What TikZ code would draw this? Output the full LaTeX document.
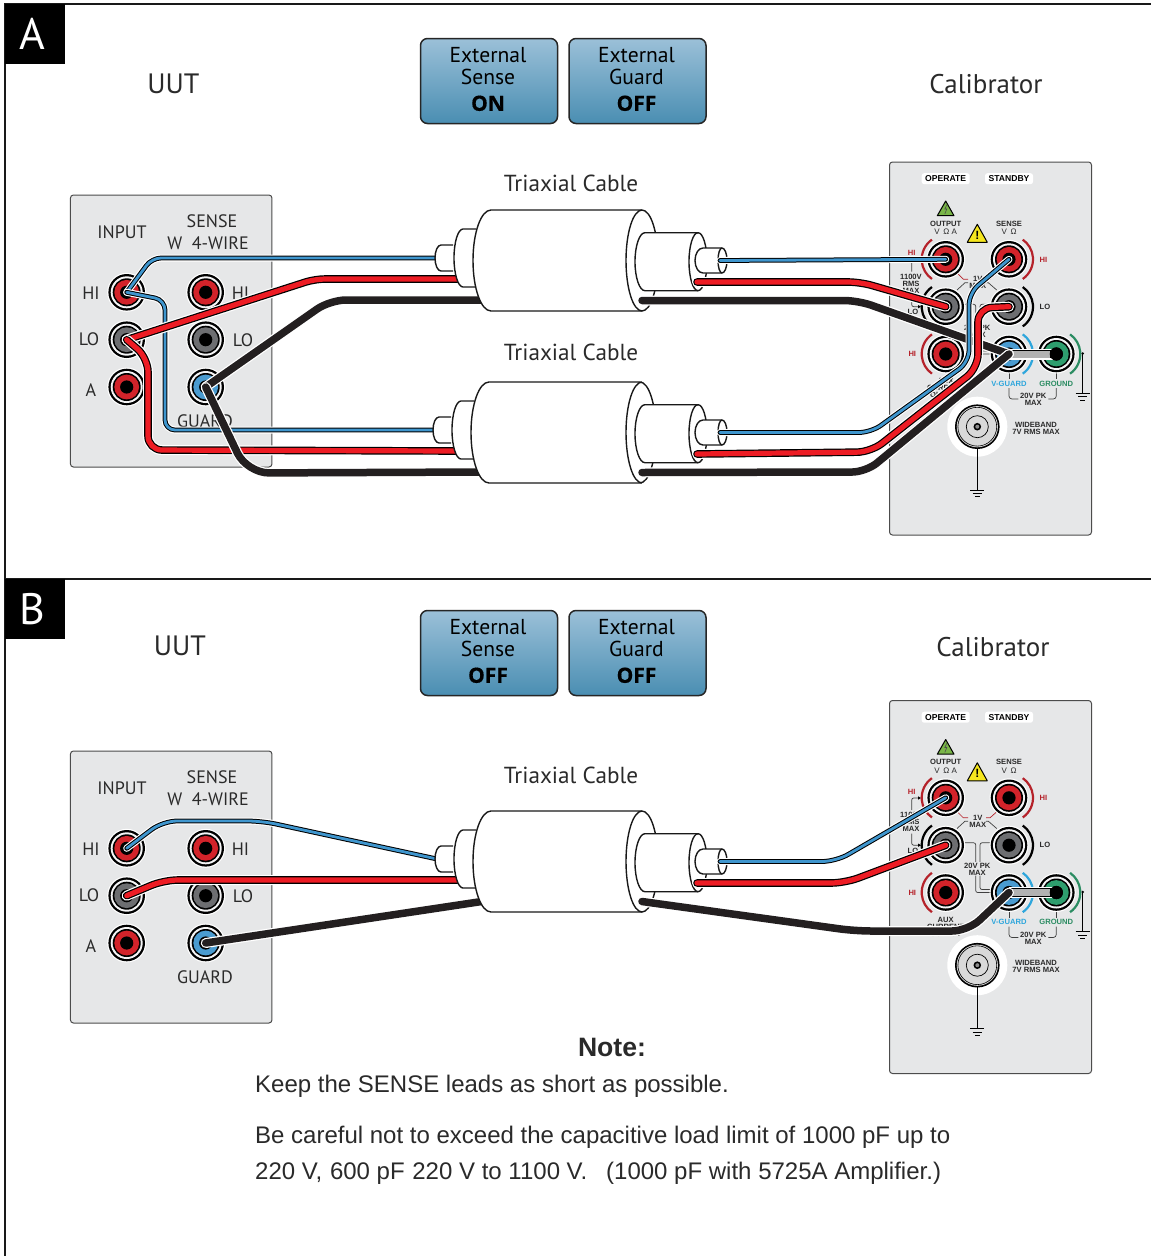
\documentclass[tikz,border=0pt]{standalone}
\usepackage{fontspec}
\setmainfont{Liberation Sans}
\newfontfamily\myr{PT Sans}
\newfontfamily\myrb{Open Sans}[BoldFeatures={FakeBold=0.5}]
\definecolor{jred}{HTML}{D2232A}
\definecolor{jgray}{HTML}{6D6E71}
\definecolor{jblue}{HTML}{4A9BD0}
\definecolor{jgreen}{HTML}{2E9E6E}
\definecolor{wred}{HTML}{ED1C24}
\definecolor{wblue}{HTML}{3F96CE}
\definecolor{wblack}{HTML}{231F20}
\definecolor{panelc}{HTML}{E6E7E8}
\definecolor{arcred}{HTML}{B5222A}
\definecolor{labcy}{HTML}{2EA6DC}
\definecolor{labgr}{HTML}{2B8C62}
\definecolor{ink}{HTML}{2A2A2A}
\definecolor{btop}{HTML}{9BC0D8}
\definecolor{bbot}{HTML}{4A8EB2}
\definecolor{warngreen}{HTML}{7AB648}
\definecolor{warnyellow}{HTML}{F5E61E}
\tikzset{
  x=1pt,y=-1pt,
  wirepath/.style={line cap=round,line join=round},
  panelbox/.style={draw=black!70,line width=1pt,fill=panelc,rounded corners=3pt},
  btn/.style={draw=black!85,line width=1.5pt,rounded corners=7pt,top color=btop,bottom color=bbot,
     minimum width=137pt,minimum height=85pt,inner sep=0pt},
  btntext/.style={inner sep=0pt,align=center,text=black,font=\myr\fontsize{21.6}{21.6}\selectfont},
  big/.style={text=ink,inner sep=0pt,font=\myr\fontsize{27}{27}\selectfont},
  bigu/.style={text=ink,inner sep=0pt,font=\myr\fontsize{28}{28}\selectfont},
  mid/.style={text=ink,inner sep=0pt,font=\myr\fontsize{23.2}{23.2}\selectfont},
  uutlab/.style={text=ink,inner sep=0pt,font=\myr\fontsize{18}{19}\selectfont},
  tiny/.style={text=ink,inner sep=0pt,align=center,font=\fontsize{7.6}{7}\selectfont\bfseries},
  pill/.style={fill=white,rounded corners=2.5pt,minimum width=48pt,minimum height=11pt,inner sep=0pt,text=black,font=\fontsize{8.6}{8.6}\selectfont\bfseries},
  thin line/.style={draw=black!75,line width=.7pt,rounded corners=2pt},
  cab/.style={draw=black!90,line width=1.4pt,fill=white,line join=round},
  cabl/.style={draw=black!90,line width=1.4pt},
  notetext/.style={anchor=base west,inner sep=0pt,text=ink,font=\fontsize{24}{24}\selectfont},
  lettersq/.style={fill=black,minimum size=60pt,inner sep=0pt,text=white,font=\myr\fontsize{44}{44}\selectfont}
}
\newcommand\button[5]{%
  \node[btn] (#1) at (#2,#3) {};
  \node[btntext] (#1t) at (#2-1,#3-2) {External\\[1pt]#4\\[4.5pt]{\myrb\fontsize{21}{21}\selectfont\bfseries #5}};
}
\newcommand\jack[3]{%
  \node[circle,fill=white,minimum size=39pt,inner sep=0pt] (#1) at (#2) {};
  \fill[black] (#1.center) circle[radius=18.3pt];
  \fill[panelc!40!white] (#1.center) circle[radius=16pt];
  \fill[black] (#1.center) circle[radius=14pt];
  \fill[#3] (#1.center) circle[radius=12.4pt];
  \fill[black] (#1.center) circle[radius=6.6pt];
}
\newcommand\jarc[4]{\draw[#4,line width=2.2pt] ([shift={(#2:24pt)}]#1.center) arc[start angle=#2,end angle=#3,radius=24pt];}
\newcommand\gnd[1]{%
  \draw[black,line width=.8pt] ([xshift=-7pt]#1) -- ([xshift=7pt]#1)
    ([xshift=-4.6pt,yshift=-3.4pt]#1) -- ([xshift=4.6pt,yshift=-3.4pt]#1)
    ([xshift=-2.3pt,yshift=-6.8pt]#1) -- ([xshift=2.3pt,yshift=-6.8pt]#1);
}
\newcommand\bwire[2][12pt]{%
  \draw[wirepath,rounded corners=#1,white,line width=7pt] #2;
  \draw[wirepath,rounded corners=#1,black,line width=4.8pt] #2;
  \draw[wirepath,rounded corners=#1,wblue,line width=2.8pt] #2;}
\newcommand\rwire[2][12pt]{%
  \draw[wirepath,rounded corners=#1,white,line width=10pt] #2;
  \draw[wirepath,rounded corners=#1,black,line width=7.6pt] #2;
  \draw[wirepath,rounded corners=#1,wred,line width=5.2pt] #2;}
\newcommand\kwire[2][12pt]{%
  \draw[wirepath,rounded corners=#1,white,line width=10pt] #2;
  \draw[wirepath,rounded corners=#1,wblack,line width=7.5pt] #2;}
\newcommand\link[2]{%
  \draw[white,line width=11pt] (#1.center) -- (#2.center);
  \draw[black,line width=8.4pt] (#1.center) -- (#2.center);
  \draw[black!30,line width=7pt] (#1.center) -- ([xshift=-6.5pt]#2.center);
  \fill[black] (#2.center) circle[radius=6.6pt];}
\newcommand\cableco[3]{%
  \begin{scope}[shift={(#2,#3)},name prefix=#1-]
    \coordinate (l1) at (437,258);
    \coordinate (l2) at (458,279);
    \coordinate (l3) at (485,300);
    \coordinate (r1) at (720,260.5);
    \coordinate (r2) at (697,282);
    \coordinate (r3) at (642,300.5);
  \end{scope}}
\newcommand\cablebody[3]{%
  \begin{scope}[shift={(#1,#2)}]
    \draw[cab] (453,245) -- (441,245) arc[start angle=90,end angle=270,x radius=6pt,y radius=13pt] -- (453,271);
    \draw[cab] (476,229) -- (463,229) arc[start angle=90,end angle=270,x radius=9pt,y radius=29pt] -- (476,287);
    \draw[cab] (491,210) -- (642,210) arc[start angle=90,end angle=-90,x radius=16pt,y radius=50.5pt] -- (491,311) arc[start angle=270,end angle=90,x radius=18pt,y radius=50.5pt] -- cycle;
  \end{scope}
  \begin{scope}[shift={(0,#3)}]
    \draw[cabl] (642,210) arc[start angle=90,end angle=270,x radius=16pt,y radius=50.5pt];
    \draw[cab] (645,232.7) -- (698,232.7) arc[start angle=90,end angle=-90,x radius=9pt,y radius=29pt] -- (645,290.7) arc[start angle=270,end angle=90,x radius=10pt,y radius=29pt] -- cycle;
    \draw[cabl] (698,232.7) arc[start angle=90,end angle=270,x radius=9pt,y radius=29pt];
    \draw[cab] (703,248) -- (722,248) arc[start angle=90,end angle=-90,x radius=5pt,y radius=12.5pt] -- (703,273) arc[start angle=270,end angle=90,x radius=8pt,y radius=12.5pt] -- cycle;
    \draw[cabl] (722,248) arc[start angle=90,end angle=270,x radius=4pt,y radius=12.5pt];
  \end{scope}}
\newcommand\uut[2]{%
  \begin{scope}[shift={(0,#1)},name prefix=#2-]
    \node[panelbox,minimum width=201.5pt,minimum height=272pt,inner sep=0pt] (box) at (171.2,331) {};
    \node[uutlab] (tinput) at (122,232) {INPUT};
    \node[uutlab] (tsense) at (212,221) {SENSE};
    \node[uutlab] (twire) at (208,243) {W\ \ 4-WIRE};
    \node[uutlab] (thi) at (91,293.5) {HI};
    \node[uutlab] (thi2) at (240.5,293.5) {HI};
    \node[uutlab] (tlo) at (89,339.5) {LO};
    \node[uutlab] (tlo2) at (243,340.5) {LO};
    \node[uutlab] (ta) at (91,390) {A};
    \node[uutlab] (tguard) at (205,421) {GUARD};
    \jack{hi}{126.7,292.3}{jred}
    \jack{lo}{126.7,339.7}{jgray}
    \jack{a}{126.7,387}{jred}
    \jack{shi}{205.7,292.3}{jred}
    \jack{slo}{205.7,339.7}{jgray}
    \jack{guard}{205.7,387}{jblue}
  \end{scope}}
\newcommand\calpanel[2]{%
  \begin{scope}[shift={(0,#1)},name prefix=#2-]
    \node[panelbox,minimum width=202pt,minimum height=373pt,inner sep=0pt] (box) at (990.5,348.5) {};
    \node[pill] (op) at (945.7,178.7) {OPERATE};
    \node[pill] (st) at (1009,178.7) {STANDBY};
    \path (945.7,201) coordinate (g1) (937.3,215.7) coordinate (g2) (954,215.7) coordinate (g3);
    \draw[black,line width=1pt,fill=warngreen,line join=round] (g1) -- (g2) -- (g3) -- cycle;
    \coordinate (bolta) at (947,204.5); \coordinate (boltb) at (944.8,209); \coordinate (boltc) at (946.8,209); \coordinate (boltd) at (944.8,214);
    \draw[black!70,line width=.6pt] (bolta) -- (boltb) -- (boltc) -- (boltd);
    \path (977.3,224.3) coordinate (y1) (967.3,242.3) coordinate (y2) (987.3,242.3) coordinate (y3);
    \draw[black,line width=1pt,fill=warnyellow,line join=round] (y1) -- (y2) -- (y3) -- cycle;
    \node[inner sep=0pt,font=\fontsize{12}{12}\selectfont\bfseries] (excl) at (977.3,235) {!};
    \node[tiny] (tout) at (945.7,223.5) {OUTPUT};
    \node[tiny,font=\fontsize{8}{8}\selectfont] (tvoa) at (945.7,232) {V \(\,\)Ω A};
    \node[tiny] (tsen) at (1009,223.5) {SENSE};
    \node[tiny,font=\fontsize{8}{8}\selectfont] (tvo) at (1009,232) {V \(\,\)Ω};
    \node[tiny,text=arcred] (thia) at (911.7,253.3) {HI};
    \node[tiny,text=arcred] (thib) at (1043.5,259.7) {HI};
    \node[tiny] (t1100) at (911,283.5) {1100V\\RMS\\MAX};
    \node[tiny] (tloa) at (913,312) {LO};
    \node[tiny] (t1v) at (977.7,282.5) {1V\\MAX};
    \node[tiny] (tlob) at (1045,306.7) {LO};
    \node[tiny] (t20a) at (977.3,331) {20V PK\\MAX};
    \node[tiny,text=arcred] (thic) at (912.3,354) {HI};
    \node[tiny] (taux) at (945.7,388) {AUX\\CURRENT\\OUTPUT};
    \node[tiny,text=labcy] (tvg) at (1009,383.8) {V-GUARD};
    \node[tiny,text=labgr] (tgn) at (1056.3,383.8) {GROUND};
    \node[tiny] (t20b) at (1033.3,399.5) {20V PK\\MAX};
    \node[tiny] (twb) at (1036,428) {WIDEBAND\\7V RMS MAX};
    % thin leaders
    \draw[arcred,line width=.7pt] (957.3,273.3) -- (963.3,279.3) -- (968,279.3);
    \draw[arcred,line width=.7pt] (996.7,273.3) -- (990,279.3) -- (986,279.3);
    \draw[black!75,line width=.7pt] (957,290) -- (965,282.7) -- (968,282.7);
    \draw[black!75,line width=.7pt] (996.7,290) -- (988.3,282.7) -- (986,282.7);
    \draw[thin line] (963.3,304.3) -- (975.7,304.3) -- (975.7,323.3);
    \draw[thin line] (990,304.3) -- (980,304.3) -- (980,323.3);
    \draw[thin line] (975.7,337) -- (975.7,354) -- (990,354);
    \draw[thin line] (980,337) -- (980,351) -- (990,351);
    \draw[thin line] (1009,372) -- (1009,379);
    \draw[thin line] (1056.3,372) -- (1056.3,379);
    \draw[thin line,rounded corners=3pt] (1009,388) -- (1009,399) -- (1018.3,399);
    \draw[thin line,rounded corners=3pt] (1056.3,388) -- (1056.3,399) -- (1048.3,399);
    \draw[thin line] (911.7,271.5) -- (911.7,259.5) -- (919,259.5);
    \draw[thin line] (911.7,295) -- (911.7,306.7) -- (919,306.7);
    \fill[black] (921,259.5) -- (918,257.8) -- (918,261.2) -- cycle;
    \fill[black] (921,306.7) -- (918,305) -- (918,308.4) -- cycle;
    \jack{ohi}{945.7,259.3}{jred}
    \jack{shi}{1009,259.3}{jred}
    \jack{olo}{945.7,306.7}{jgray}
    \jack{slo}{1009,306.7}{jgray}
    \jack{aux}{945.7,354}{jred}
    \jack{vg}{1009,354}{jblue}
    \jarc{ohi}{125}{235}{arcred}
    \jarc{shi}{-55}{55}{arcred}
    \jarc{olo}{125}{235}{black}
    \jarc{slo}{-55}{55}{black}
    \jarc{aux}{125}{235}{arcred}
    \jarc{vg}{-55}{55}{labcy}
    \jack{gnd}{1056.3,354}{jgreen}
    \jarc{gnd}{-55}{55}{labgr}
    % ground of GROUND jack
    \coordinate (gt) at (1082.7,353.5);
    \coordinate (gb) at (1082.7,393.3);
    \fill[black] (gt) circle[radius=1.3pt];
    \draw[black,line width=.8pt] (gt) -- (gb);
    \gnd{gb}
    % BNC
    \node[circle,fill=white,minimum size=60pt,inner sep=0pt] (bnc) at (977.3,426.7) {};
    \fill[black] (bnc.center) circle[radius=22.3pt];
    \fill[black!15] (bnc.center) circle[radius=20.6pt];
    \draw[black,line width=.6pt] (bnc.center) circle[radius=19.4pt];
    \draw[black,line width=.7pt] (bnc.center) circle[radius=11pt];
    \fill[black] (bnc.center) circle[radius=3.8pt];
    \fill[black!45] (bnc.center) circle[radius=2pt];
    \coordinate (bg) at (977.3,490);
    \draw[black,line width=.8pt] (bnc.center)++(0,22) -- (bg);
    \gnd{bg}
  \end{scope}}
\begin{document}
\begin{tikzpicture}
\useasboundingbox (0,0) rectangle (1151,1256);
\fill[white] (0,0) rectangle (1151,1256);
% frame
\coordinate (fa) at (5,4); \coordinate (fb) at (1151,4); \coordinate (fc) at (5,1256);
\coordinate (fd) at (5,579); \coordinate (fe) at (1151,579);
\draw[black!90,line width=1.5pt] (fb) -- (fa) -- (fc) (fd) -- (fe);
\node[lettersq,anchor=north west] (la) at (5,4) {\kern-6pt A};
\node[lettersq,anchor=north west] (lb) at (5,579) {\kern-6pt B};
% headings
\node[bigu] (uuta) at (173.5,84) {UUT};
\node[big] (cala) at (986,84) {Calibrator};
\node[bigu] (uutb) at (180,646) {UUT};
\node[big] (calb) at (993,647) {Calibrator};
\button{b1}{489}{81}{Sense}{ON}
\button{b2}{637.5}{81}{Guard}{OFF}
\button{b3}{489}{653}{Sense}{OFF}
\button{b4}{637.5}{653}{Guard}{OFF}
\node[mid] (tc1) at (571,183) {Triaxial Cable};
\node[mid] (tc2) at (571,352) {Triaxial Cable};
\node[mid] (tc3) at (571,775) {Triaxial Cable};
% panels
\uut{0}{ua}
\uut{556}{ub}
\calpanel{0}{ca}
\calpanel{538.5}{cb}
\cableco{c1}{0}{0}
\cableco{c2}{-2}{172}
\cableco{c3}{0}{601}
\path (c2-r1)++(2,0) coordinate (c2-r1x) (c2-r2)++(2,0) coordinate (c2-r2x) (c2-r3)++(2,0) coordinate (c2-r3x);
% A: left wires
\bwire[9pt]{(ua-hi.center) -- (152,258) -- (c1-l1)}
\bwire[10pt]{(ua-hi.center) -- (165,300) -- (165,430) -- (c2-l1)}
\rwire[10pt]{(ua-lo.center) -- (315,279) -- (c1-l2)}
\rwire[14pt]{(ua-lo.center) -- (148,358) -- (148,450) -- (c2-l2)}
\kwire[16pt]{(ua-guard.center) -- (330,300) -- (c1-l3)}
\kwire[22pt]{(ua-guard.center) -- (247,473) -- (c2-l3)}
% B: left wires
\bwire[14pt]{(ub-hi.center) -- (163,821) -- (262,821) -- (c3-l1)}
\rwire[14pt]{(ub-lo.center) -- (164,880) -- (c3-l2)}
\kwire{(ub-guard.center) -- (c3-l3)}
% cables
\cablebody{0}{0}{0}
\cablebody{-2}{172}{172}
\cablebody{0}{601}{601}
% A: right wires
\link{ca-vg}{ca-gnd}
\kwire[14pt]{(c1-r3) -- (858,300.5) -- (ca-vg.center)}
\bwire{(c1-r1) -- (ca-ohi.center)}
\rwire[12pt]{(c1-r2) -- (860,282) -- (ca-olo.center)}
\kwire[14pt]{(c2-r3x) -- (866,472) -- (ca-vg.center)}
\rwire[14pt]{(c2-r2x) -- (871,452) -- (978,368) -- (978,308) -- (ca-slo.center)}
\bwire[12pt]{(c2-r1x) -- (871,432.5) -- (969,362) -- (969,293) -- (ca-shi.center)}
% B: right wires
\link{cb-vg}{cb-gnd}
\bwire[14pt]{(c3-r1) -- (836,861.5) -- (cb-ohi.center)}
\rwire[14pt]{(c3-r2) -- (845,883) -- (cb-olo.center)}
\kwire[16pt]{(c3-r3) -- (855,931) -- (968,931) -- (cb-vg.center)}
% note
\node[inner sep=0pt,text=ink,font=\fontsize{26.6}{26.6}\selectfont\bfseries] (note) at (612,1047) {Note:};
\node[notetext] (n1) at (255,1092) {Keep the SENSE leads as short as possible.};
\node[notetext] (n2) at (255,1143) {Be careful not to exceed the capacitive load limit of 1000 pF up to};
\node[notetext] (n3) at (255,1179) {220 V,\hspace{1pt} 600 pF\hspace{1pt} 220 V to 1100 V.\hspace{19pt}(1000 pF with 5725A Amplifier.)};
\end{tikzpicture}
\end{document}
